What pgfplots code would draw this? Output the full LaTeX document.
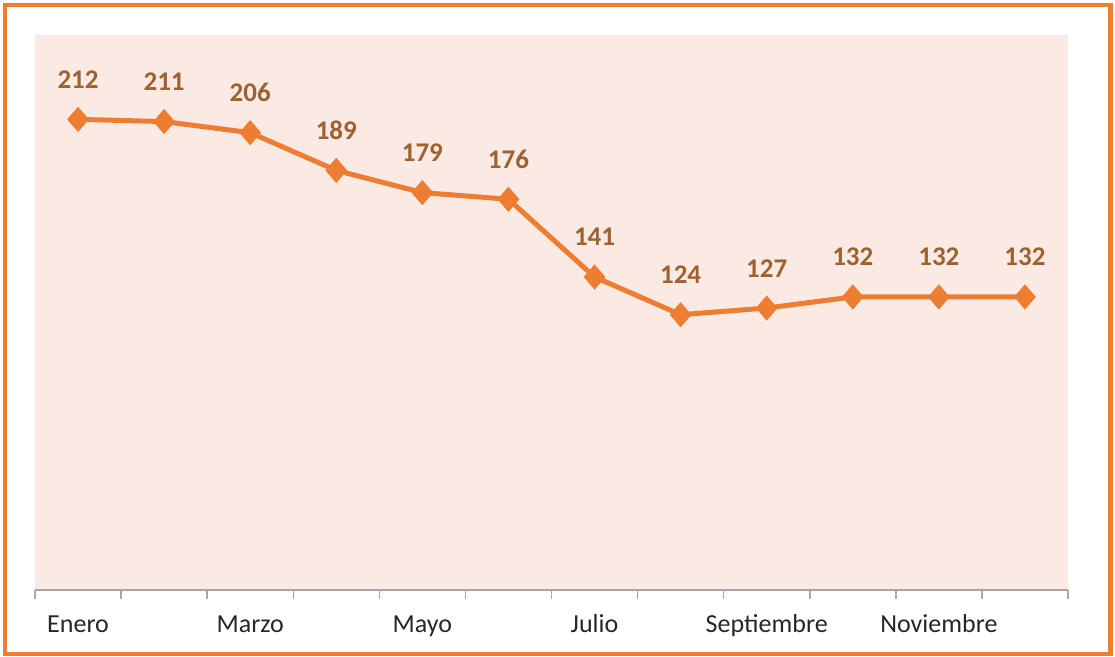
\documentclass[border=0pt]{standalone}
\usepackage{fontspec}
\setmainfont{Carlito}
\usepackage{pgfplots}
\pgfplotsset{compat=1.18}
\definecolor{orangeline}{HTML}{ED7D31}
\definecolor{labelbrown}{HTML}{9C6331}
\definecolor{bgpink}{HTML}{FBE9E4}
\definecolor{tickgray}{HTML}{A6A6A6}
\begin{document}
\begin{tikzpicture}
\useasboundingbox (0,0) rectangle (557.5pt,328.5pt);
\draw[orangeline, line width=2.25pt] (2.5pt,1.5pt) rectangle (555.25pt,326pt);
\begin{axis}[at={(17.5pt,33.5pt)}, anchor=south west, scale only axis,
 width=516.5pt, height=277.5pt,
 xmin=0.5, xmax=12.5, ymin=0, ymax=250,
 axis y line=none, axis x line*=bottom,
 axis line style={tickgray, line width=0.75pt},
 xtick={1,...,12},
 xticklabels={Enero,,Marzo,,Mayo,,Julio,,Septiembre,,Noviembre,},
 major tick length=0pt,
 minor xtick={0.5,1.5,...,12.5}, minor tick length=4.5pt,
 tick align=outside, tick style={tickgray, line width=0.75pt},
 xticklabel style={font=\fontsize{13}{15}\selectfont, text=black!85, anchor=base, yshift=-21.5pt},
 axis background/.style={fill=bgpink},
 nodes near coords,
 every node near coord/.append style={font=\fontsize{13.5}{15}\selectfont\bfseries, text=labelbrown, anchor=base, yshift=15.5pt},
 /pgf/number format/assume math mode=true,
 clip=false,
]
\addplot[orangeline, line width=2.5pt, mark=diamond*, mark size=6pt, mark options={solid, fill=orangeline, line width=0.4pt, xscale=1.15}] coordinates {
(1,212) (2,211) (3,206) (4,189) (5,179) (6,176) (7,141) (8,124) (9,127) (10,132) (11,132) (12,132)};
\end{axis}
\end{tikzpicture}
\end{document}
